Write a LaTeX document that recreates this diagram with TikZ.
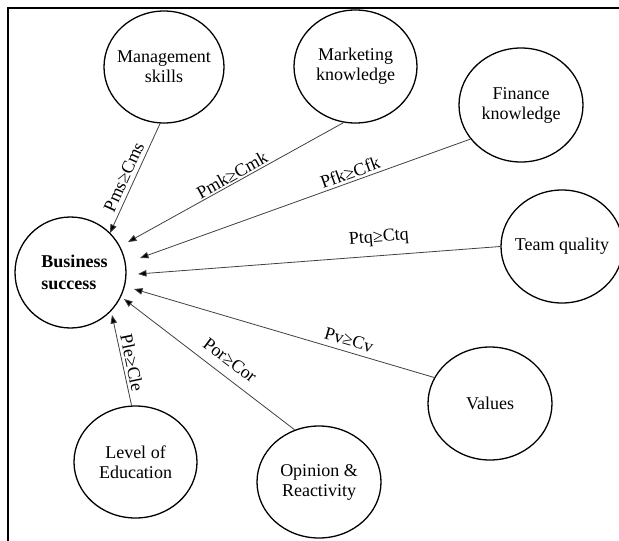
\documentclass[tikz,border=0pt]{standalone}
\usepackage{fontspec}
\setmainfont{Liberation Serif}
\usetikzlibrary{shapes.geometric,arrows.meta}
\begin{document}
\begin{tikzpicture}[x=1pt,y=-1pt,
  factor/.style={draw,ellipse,line width=1.3pt,inner xsep=-12pt,inner ysep=0pt,
    align=center,font=\fontsize{18}{20}\selectfont},
  link/.style={draw=black!75,line width=0.8pt,
    -{Triangle[length=8.5pt,width=6.5pt,fill=black]}},
  rel/.style={font=\fontsize{18}{20}\selectfont,inner sep=0pt}]
\useasboundingbox (0,0) rectangle (619,541);
\begin{scope}
\clip (0,0) rectangle (619,541);
% outer frame
\draw[line width=2pt] (8.3,541) -- (8.3,7.5) -- (619,7.5);

% factors
\node[factor,minimum width=120pt,minimum height=112pt] (ms) at (164,67) {Management\\skills};
\node[factor,minimum width=123pt,minimum height=113pt] (mk) at (355.5,66.5) {Marketing\\knowledge};
\node[factor,minimum width=124pt,minimum height=114pt] (fk) at (521,105) {Finance\\knowledge};
\node[factor,minimum width=122pt,minimum height=113pt] (tq) at (562,246.5) {Team quality};
\node[factor,minimum width=124pt,minimum height=113pt] (va) at (490,403.5) {Values};
\node[factor,minimum width=124pt,minimum height=112pt] (op) at (319,482) {Opinion \&\\Reactivity};
\node[factor,minimum width=123pt,minimum height=112pt] (le) at (135.5,462) {Level of\\Education};
\node[factor,minimum width=111pt,minimum height=111pt,align=left,
      font=\fontsize{18}{22}\selectfont\bfseries] (bs) at (70.5,272.5)
      {\hspace*{8pt}Business\\\hspace*{8pt}success};

% arrow tips next to the outcome
\coordinate (tms) at (110,233);
\coordinate (tmk) at (128,242);
\coordinate (tfk) at (140,258);
\coordinate (ttq) at (138,274);
\coordinate (tva) at (134,289);
\coordinate (top) at (124,299);
\coordinate (tle) at (112,315);

% influences
\draw[link] (ms.-94) -- (tms);
\draw[link] (mk.-102.5) -- (tmk);
\draw[link] (fk.-146.3) -- (tfk);
\draw[link] (tq.180) -- (ttq);
\draw[link] (va.155.8) -- (tva);
\draw[link] (op.115.7) -- (top);
\draw[link] (le.94.6) -- (tle);

% conditions
\node[rel,rotate=65.4] at (124,177) {Pms≥Cms};
\node[rel,rotate=29.0] at (232,175) {Pmk≥Cmk};
\node[rel,rotate=19.8] at (350,172.5) {Pfk≥Cfk};
\node[rel,rotate=4.6] at (379,238) {Ptq≥Ctq};
\node[rel,rotate=-16.3] at (349,340) {Pv≥Cv};
\node[rel,rotate=-37.1] at (230,360) {Por≥Cor};
\node[rel,rotate=-78.2] at (132,363) {Ple≥Cle};
\end{scope}
\end{tikzpicture}
\end{document}
